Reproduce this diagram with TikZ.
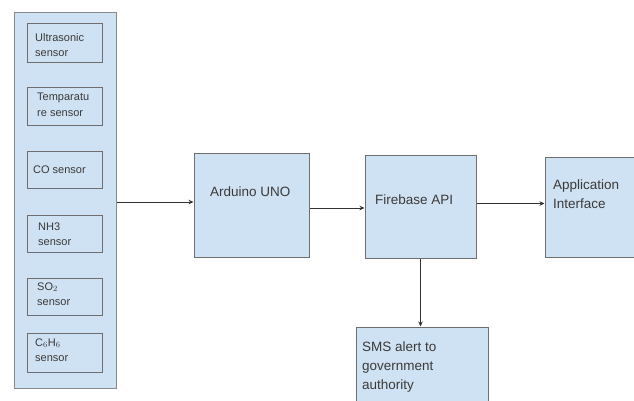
\documentclass[tikz,border=0pt]{standalone}
\usepackage{fontspec}
\setmainfont{Liberation Sans}
\usetikzlibrary{arrows.meta}
\definecolor{boxfill}{HTML}{CFE2F3}
\definecolor{boxline}{HTML}{6E6E6E}
\definecolor{outline}{HTML}{8A8A8A}
\definecolor{txt}{HTML}{3A3A3A}
\begin{document}
\begin{tikzpicture}[x=1pt,y=-1pt,
  blk/.style={draw=boxline, fill=boxfill, line width=1pt, inner sep=0pt},
  holder/.style={draw=outline, fill=boxfill, line width=1pt, inner sep=0pt},
  small/.style={font=\fontsize{11}{15.5}\selectfont, text=txt, anchor=west, align=left, inner sep=0pt},
  big/.style={font=\fontsize{13.5}{19}\selectfont, text=txt, anchor=west, align=left, inner sep=0pt},
  arr/.style={draw=black!80, line width=0.8pt, -{Stealth[length=5pt,width=4.5pt]}}]
\useasboundingbox (0,0) rectangle (634,400);
\fill[white] (0,0) rectangle (634,400);

% sensor container
\node[holder, minimum width=102pt, minimum height=376pt] (cont) at (65,200) {};

% sensor boxes
\node[blk, minimum width=75pt, minimum height=39pt] (s1) at (64.5,42.5) {};
\node[blk, minimum width=75pt, minimum height=38pt] (s2) at (64.5,106) {};
\node[blk, minimum width=75pt, minimum height=37pt] (s3) at (64.5,169.5) {};
\node[blk, minimum width=75pt, minimum height=37pt] (s4) at (64.5,233.5) {};
\node[blk, minimum width=75pt, minimum height=37pt] (s5) at (64.5,296.5) {};
\node[blk, minimum width=75pt, minimum height=39pt] (s6) at (64.5,352.5) {};

\node[small] (t1) at (35,45) {Ultrasonic\\sensor};
\node[small] (t2) at (37,105) {Temparatu\\re sensor};
\node[small] (t3) at (33,170) {CO sensor};
\node[small] (t4) at (38,234) {NH3\\sensor};
\node[small] (t5) at (37,294) {SO$_2$\\sensor};
\node[small] (t6) at (35,350) {C$_6$H$_6$\\sensor};

% main blocks
\node[blk, minimum width=115pt, minimum height=104pt] (ard) at (251.5,205) {};
\node[big] (ardt) at (210,192) {Arduino UNO};

\node[blk, minimum width=111pt, minimum height=103pt] (fb) at (420.5,206.5) {};
\node[big] (fbt) at (375,200) {Firebase API};

\node[blk, minimum width=100pt, minimum height=100pt] (app) at (595,207) {};
\node[big] (appt) at (553,194) {Application\\Interface};

\node[blk, minimum width=132pt, minimum height=80pt] (sms) at (422,367) {};
\node[big] (smst) at (362,367) {SMS alert to\\government\\authority};

% connectors
\draw[arr] ([yshift=-2pt]cont.east) -- ([yshift=-2pt]cont.east -| ard.west);
\draw[arr] ([yshift=-3pt]ard.east) -- ([yshift=-3pt]ard.east -| fb.west);
\draw[arr] ([yshift=3pt]fb.east) -- ([yshift=3pt]fb.east -| app.west);
\draw[arr] (fb.south) -- (fb.south |- sms.north);
\end{tikzpicture}
\end{document}
